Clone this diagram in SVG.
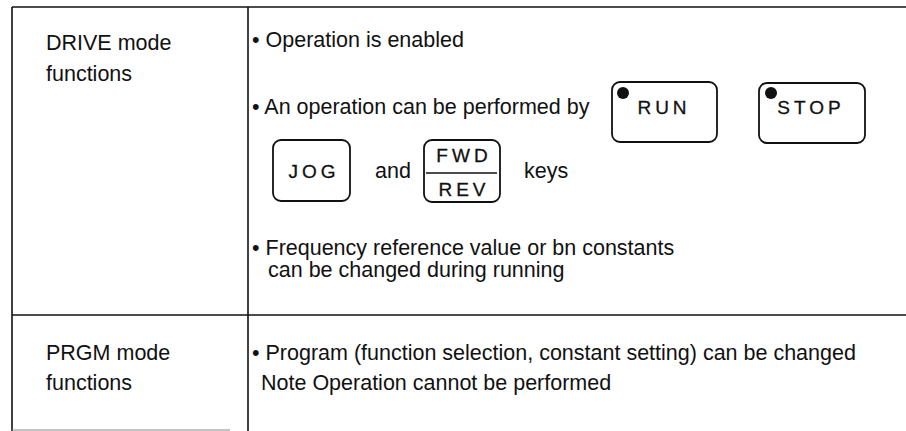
<svg xmlns="http://www.w3.org/2000/svg" width="906" height="431" viewBox="0 0 906 431">
<style>
.t{font-family:"Liberation Sans",Arial,sans-serif;font-size:21.5px;fill:#111}
.k{font-family:"Liberation Sans",Arial,sans-serif;font-size:19px;fill:#111;stroke:#111;stroke-width:0.3;letter-spacing:4px;text-anchor:middle}
.ln{stroke:#111;stroke-width:1.6;fill:none}
.key{fill:#fff;stroke:#111;stroke-width:1.8}
</style>
<rect width="906" height="431" fill="#fff"/>
<g id="table">
<line class="ln" x1="12" y1="7" x2="906" y2="7"/>
<line class="ln" x1="12" y1="7" x2="12" y2="431"/>
<line class="ln" x1="248" y1="7" x2="248" y2="431"/>
<line class="ln" x1="12" y1="315" x2="906" y2="315"/>
<line x1="12" y1="430" x2="230" y2="430" stroke="#888" stroke-width="1.2"/>
</g>
<g id="drive-label">
<text class="t" x="46" y="50">DRIVE mode</text>
<text class="t" x="46" y="81">functions</text>
</g>
<g id="drive-text">
<text class="t" x="252" y="47">• Operation is enabled</text>
<text class="t" x="252" y="114">• An operation can be performed by</text>
<text class="t" x="375" y="178">and</text>
<text class="t" x="524" y="178">keys</text>
<text class="t" x="252" y="255">• Frequency reference value or bn constants</text>
<text class="t" x="268" y="277">can be changed during running</text>
</g>
<g id="key-run">
<rect class="key" x="612" y="82" width="105" height="60" rx="8"/>
<circle cx="623" cy="93" r="6" fill="#111"/>
<text class="k" x="664" y="114">RUN</text>
</g>
<g id="key-stop">
<rect class="key" x="759" y="83" width="106" height="60" rx="8"/>
<circle cx="771" cy="93" r="6" fill="#111"/>
<text class="k" x="811" y="114">STOP</text>
</g>
<g id="key-jog">
<rect class="key" x="273" y="140" width="77" height="61" rx="8"/>
<text class="k" x="314" y="178">JOG</text>
</g>
<g id="key-fwdrev">
<rect class="key" x="424" y="140" width="76" height="62" rx="8"/>
<text class="k" x="464" y="162">FWD</text>
<line class="ln" x1="426" y1="173" x2="497" y2="173"/>
<text class="k" x="464" y="196">REV</text>
</g>
<g id="prgm-label">
<text class="t" x="46" y="360">PRGM mode</text>
<text class="t" x="46" y="390">functions</text>
</g>
<g id="prgm-text">
<text class="t" x="252" y="360">• Program (function selection, constant setting) can be changed</text>
<text class="t" x="261" y="390">Note  Operation cannot be performed</text>
</g>
</svg>
